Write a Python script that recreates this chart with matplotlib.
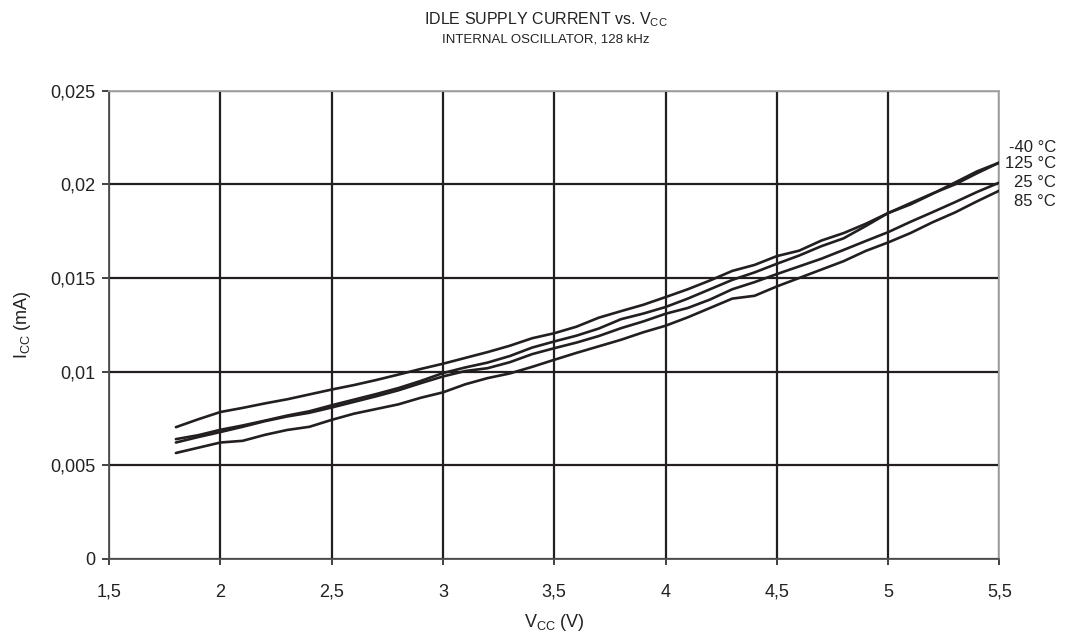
import matplotlib
matplotlib.use("Agg")
import matplotlib.pyplot as plt
import matplotlib.transforms as mtransforms

plt.rcParams['font.family'] = ['Liberation Sans', 'DejaVu Sans']
plt.rcParams['mathtext.fontset'] = 'custom'
plt.rcParams['mathtext.rm'] = 'Liberation Sans'

# ----------------------------
# data
# ----------------------------
vcc = [1.8, 1.9, 2.0, 2.1, 2.2, 2.3, 2.4, 2.5, 2.6, 2.7, 2.8, 2.9, 3.0, 3.1, 3.2, 3.3,
       3.4, 3.5, 3.6, 3.7, 3.8, 3.9, 4.0, 4.1, 4.2, 4.3, 4.4, 4.5, 4.6, 4.7, 4.8, 4.9,
       5.0, 5.1, 5.2, 5.3, 5.4, 5.5]

icc_m40 = [0.00703, 0.00745, 0.00784, 0.00806, 0.00830, 0.00852, 0.00878, 0.00904,
           0.00928, 0.00955, 0.00984, 0.01014, 0.01042, 0.01073, 0.01104, 0.01138,
           0.01178, 0.01205, 0.01240, 0.01288, 0.01323, 0.01357, 0.01398, 0.01440,
           0.01487, 0.01538, 0.01570, 0.01617, 0.01646, 0.01700, 0.01740, 0.01790,
           0.01847, 0.01893, 0.01950, 0.02010, 0.02070, 0.02117]

icc_125 = [0.00639, 0.00660, 0.00689, 0.00712, 0.00738, 0.00765, 0.00788, 0.00820,
           0.00850, 0.00880, 0.00912, 0.00950, 0.00992, 0.01022, 0.01048, 0.01083,
           0.01128, 0.01161, 0.01192, 0.01230, 0.01280, 0.01310, 0.01345, 0.01390,
           0.01440, 0.01490, 0.01530, 0.01576, 0.01620, 0.01670, 0.01712, 0.01778,
           0.01847, 0.01900, 0.01952, 0.02000, 0.02060, 0.02117]

icc_25 = [0.00621, 0.00650, 0.00677, 0.00705, 0.00735, 0.00760, 0.00780, 0.00808,
          0.00838, 0.00868, 0.00900, 0.00938, 0.00974, 0.01003, 0.01018, 0.01050,
          0.01093, 0.01125, 0.01155, 0.01190, 0.01232, 0.01268, 0.01309, 0.01340,
          0.01385, 0.01440, 0.01478, 0.01521, 0.01562, 0.01603, 0.01650, 0.01698,
          0.01745, 0.01800, 0.01852, 0.01905, 0.01960, 0.02010]

icc_85 = [0.00565, 0.00593, 0.00621, 0.00630, 0.00662, 0.00688, 0.00705, 0.00742,
          0.00775, 0.00800, 0.00825, 0.00860, 0.00889, 0.00932, 0.00965, 0.00990,
          0.01025, 0.01063, 0.01100, 0.01135, 0.01170, 0.01210, 0.01245, 0.01290,
          0.01340, 0.01390, 0.01405, 0.01455, 0.01500, 0.01545, 0.01590, 0.01645,
          0.01690, 0.01740, 0.01798, 0.01850, 0.01910, 0.01967]

series = [icc_m40, icc_125, icc_25, icc_85]
labels = ["-40 °C", "125 °C", "25 °C", "85 °C"]
label_y = [0.0220, 0.0211, 0.0201, 0.0191]

xticks = [1.5, 2, 2.5, 3, 3.5, 4, 4.5, 5, 5.5]
xticklabels = ["1,5", "2", "2,5", "3", "3,5", "4", "4,5", "5", "5,5"]
yticks = [0, 0.005, 0.01, 0.015, 0.02, 0.025]
yticklabels = ["0", "0,005", "0,01", "0,015", "0,02", "0,025"]

# ----------------------------
# figure
# ----------------------------
fig = plt.figure(figsize=(10.7, 6.4), dpi=100)
ax = fig.add_axes([0.102, 0.127, 0.832, 0.731])

line_col = "#231f20"
for ys in series:
    ax.plot(vcc, ys, color=line_col, lw=1.9, solid_capstyle="round", zorder=3)

ax.set_xlim(1.5, 5.5)
ax.set_ylim(0, 0.025)
ax.set_xticks(xticks)
ax.set_xticklabels(xticklabels)
ax.set_yticks(yticks)
ax.set_yticklabels(yticklabels)
ax.tick_params(axis="both", labelsize=13, colors="#222222", width=1.2)
ax.tick_params(axis="y", length=5, pad=5)
ax.tick_params(axis="x", length=4, pad=14)

ax.grid(True, color="#231f20", lw=1.6, zorder=1)
for s in ["left", "bottom"]:
    ax.spines[s].set_color("#505050")
    ax.spines[s].set_linewidth(1.3)
for s in ["top", "right"]:
    ax.spines[s].set_color("#a8a8a8")
    ax.spines[s].set_linewidth(1.3)

ax.set_xlabel(r"V$_{\mathregular{CC}}$ (V)", fontsize=13, color="#222222")
ax.set_ylabel(r"I$_{\mathregular{CC}}$ (mA)", fontsize=13, color="#222222")
ax.xaxis.set_label_coords(0.5, -0.113)
ax.yaxis.set_label_coords(-0.085, 0.5)

# temperature labels at the right edge
trans = mtransforms.blended_transform_factory(fig.transFigure, ax.transData)
for lab, yy in zip(labels, label_y):
    ax.text(0.987, yy, lab, transform=trans, ha="right", va="center",
            fontsize=12, color="#222222", clip_on=False)

fig.text(0.51, 0.970, r"IDLE SUPPLY CURRENT vs. V$_{\mathregular{CC}}$",
         ha="center", va="center", fontsize=11.5, color="#222222")
fig.text(0.51, 0.939, "INTERNAL OSCILLATOR, 128 kHz",
         ha="center", va="center", fontsize=9.5, color="#222222")

fig.savefig("out.png", dpi=100)
